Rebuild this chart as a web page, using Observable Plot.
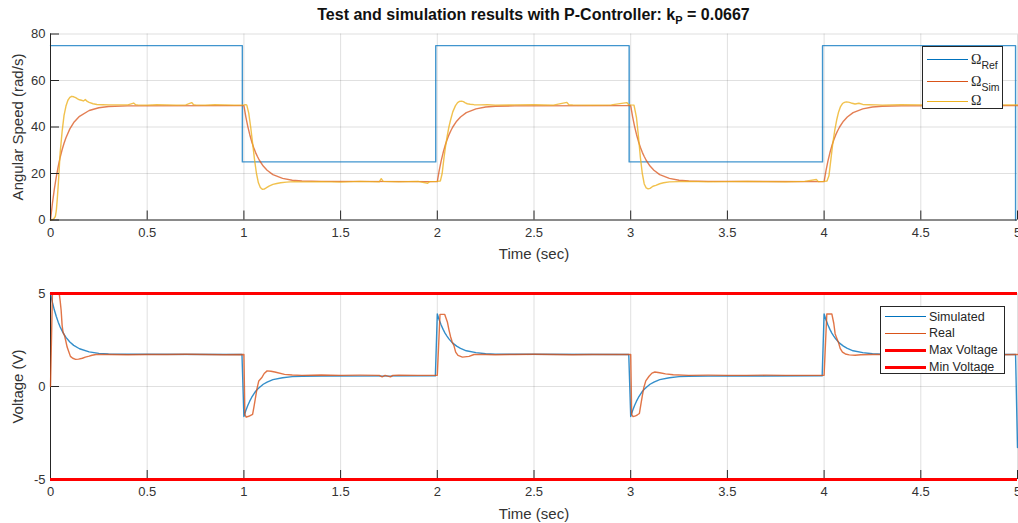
<!DOCTYPE html>
<html>
<head>
<meta charset="utf-8">
<script src="https://cdn.jsdelivr.net/npm/d3@7"></script>
<script src="https://cdn.jsdelivr.net/npm/@observablehq/plot@0.6"></script>
<style>
  body { margin: 0; background: #fff; font-family: "Liberation Sans", Arial, sans-serif; }
  #fig { position: relative; width: 1018px; height: 523px; overflow: hidden; background: #fff; }
  #title { box-sizing: border-box; height: 26px; padding: 5px 1px 0 50px; line-height: 20px;
           text-align: center; font-weight: bold; font-size: 16px; color: #111; white-space: nowrap; }
  #title sub { font-size: 11px; vertical-align: -4px; line-height: 0; }
  #top svg, #bottom svg { display: block; }
  .legend { position: absolute; box-sizing: border-box; background: #fff; border: 1px solid #262626; color: #262626; }
  .legend .sw { position: absolute; left: 4px; width: 41px; height: 0; }
  .legend .lb { position: absolute; left: 48px; height: 18px; line-height: 18px; white-space: nowrap; font-size: 12.5px; }
  .legend .om { font-family: "Liberation Serif", "DejaVu Serif", serif; font-size: 14px; }
  .legend .om sub { font-family: "Liberation Sans", Arial, sans-serif; font-size: 10.5px; vertical-align: -5px; line-height: 0; }
</style>
</head>
<body>
<div id="fig">
  <div id="title">Test and simulation results with P-Controller: k<sub>P</sub> = 0.0667</div>
  <div id="top"></div>
  <div id="bottom"></div>
  <div class="legend" id="legTop" style="left:922px; top:46px; width:81px; height:63px;"></div>
  <div class="legend" id="legBottom" style="left:880px; top:306px; width:125px; height:68px;"></div>
</div>
<script>
// ---- axes ----
const timeDomain = [0, 5];
const timeTicks = [0, 0.5, 1, 1.5, 2, 2.5, 3, 3.5, 4, 4.5, 5];
const omegaDomain = [0, 80];
const omegaTicks = [0, 20, 40, 60, 80];
const voltDomain = [-5, 5];
const voltTicks = [-5, 0, 5];
const voltLimits = [5, -5];   // max / min supply voltage

// ---- reference speed (rad/s) ----
const refT = [0, 0.992, 0.992, 1.992, 1.992, 2.992, 2.992, 3.992, 3.992, 4.99, 4.99];
const refOmega = [75, 75, 25, 25, 75, 75, 25, 25, 75, 75, 0];

// ---- simulated response (shared time base) ----
const simT = [
  0, 0.01, 0.02, 0.03, 0.04, 0.05, 0.06, 0.07, 0.08, 0.10, 0.12, 0.15, 0.20, 0.25, 0.30, 0.40, 0.99,
  1.00, 1.01, 1.02, 1.03, 1.04, 1.05, 1.06, 1.07, 1.08, 1.10, 1.12, 1.15, 1.20, 1.25, 1.30, 1.40, 1.99,
  2.00, 2.01, 2.02, 2.03, 2.04, 2.05, 2.06, 2.07, 2.08, 2.10, 2.12, 2.15, 2.20, 2.25, 2.30, 2.40, 2.99,
  3.00, 3.01, 3.02, 3.03, 3.04, 3.05, 3.06, 3.07, 3.08, 3.10, 3.12, 3.15, 3.20, 3.25, 3.30, 3.40, 3.99,
  4.00, 4.01, 4.02, 4.03, 4.04, 4.05, 4.06, 4.07, 4.08, 4.10, 4.12, 4.15, 4.20, 4.25, 4.30, 4.40, 4.99, 5.00
];
const simOmega = [
  0, 7.2, 13.4, 18.6, 23.1, 27.0, 30.2, 33.0, 35.4, 39.2, 41.9, 44.6, 47.1, 48.3, 48.8, 49.1, 49.2,
  49.2, 44.4, 40.3, 36.8, 33.8, 31.3, 29.1, 27.3, 25.7, 23.2, 21.4, 19.5, 17.9, 17.1, 16.8, 16.6, 16.5,
  16.5, 21.3, 25.4, 28.9, 31.9, 34.4, 36.6, 38.4, 40.0, 42.5, 44.3, 46.2, 47.8, 48.6, 48.9, 49.1, 49.2,
  49.2, 44.4, 40.3, 36.8, 33.8, 31.3, 29.1, 27.3, 25.7, 23.2, 21.4, 19.5, 17.9, 17.1, 16.8, 16.6, 16.5,
  16.5, 21.3, 25.4, 28.9, 31.9, 34.4, 36.6, 38.4, 40.0, 42.5, 44.3, 46.2, 47.8, 48.6, 48.9, 49.1, 49.2, 49.2
];
const simVolt = [
  5.00, 4.52, 4.11, 3.76, 3.46, 3.20, 2.99, 2.80, 2.64, 2.39, 2.21, 2.03, 1.86, 1.78, 1.75, 1.73, 1.72,
  -1.61, -1.29, -1.02, -0.79, -0.59, -0.42, -0.27, -0.15, -0.05, 0.12, 0.24, 0.37, 0.47, 0.53, 0.55, 0.56, 0.57,
  3.90, 3.58, 3.31, 3.07, 2.87, 2.71, 2.56, 2.44, 2.33, 2.17, 2.05, 1.92, 1.82, 1.76, 1.74, 1.73, 1.72,
  -1.61, -1.29, -1.02, -0.79, -0.59, -0.42, -0.27, -0.15, -0.05, 0.12, 0.24, 0.37, 0.47, 0.53, 0.55, 0.56, 0.57,
  3.90, 3.58, 3.31, 3.07, 2.87, 2.71, 2.56, 2.44, 2.33, 2.17, 2.05, 1.92, 1.82, 1.76, 1.74, 1.73, 1.72, -3.28
];

// ---- measured speed [t, rad/s] ----
const measOmega = [
  [0, 0], [0.015, 0.3], [0.025, 1.5], [0.03, 4], [0.035, 9], [0.04, 15], [0.045, 22], [0.05, 29],
  [0.06, 38], [0.07, 45], [0.08, 49], [0.09, 51.5], [0.10, 52.7], [0.11, 53.2], [0.12, 53], [0.13, 52.6],
  [0.14, 52.1], [0.15, 51.7], [0.16, 51.5], [0.17, 51.2], [0.18, 51.8], [0.19, 51], [0.20, 50.6], [0.22, 50],
  [0.24, 49.7], [0.27, 49.6], [0.30, 49.5], [0.35, 49.5], [0.40, 49.5], [0.43, 50.3], [0.44, 49.6], [0.45, 49.5],
  [0.50, 49.4], [0.55, 49.6], [0.60, 49.5], [0.65, 49.4], [0.70, 49.5], [0.73, 50.5], [0.74, 49.6], [0.75, 49.5],
  [0.80, 49.4], [0.85, 49.6], [0.90, 49.5], [0.95, 49.4], [1.00, 49.5], [1.01, 49.6],
  [1.015, 49.4], [1.025, 46], [1.035, 40], [1.045, 33], [1.055, 26], [1.065, 20], [1.075, 16], [1.085, 14],
  [1.095, 13.2], [1.105, 13.3], [1.115, 13.8], [1.13, 14.6], [1.15, 15.3], [1.17, 15.7], [1.19, 16], [1.22, 16.3],
  [1.26, 16.5], [1.3, 16.4], [1.4, 16.5], [1.5, 16.3], [1.6, 16.6], [1.7, 16.4], [1.71, 17.8], [1.72, 16.6],
  [1.8, 16.4], [1.9, 16.6], [1.95, 15.8], [1.96, 16.5], [2.0, 16.6], [2.016, 16.8],
  [2.025, 20], [2.035, 27], [2.042, 31.3], [2.05, 35.5], [2.06, 40], [2.068, 42.8], [2.08, 46.5], [2.094, 49.2],
  [2.105, 50.5], [2.115, 51], [2.125, 51.1], [2.135, 50.9], [2.145, 50.4], [2.155, 50], [2.17, 49.8], [2.19, 49.6],
  [2.22, 49.5], [2.26, 49.6], [2.3, 49.4], [2.4, 49.5], [2.5, 49.6], [2.6, 49.4], [2.67, 50.6], [2.68, 49.6],
  [2.7, 49.5], [2.8, 49.4], [2.9, 49.5], [2.98, 50.5], [2.99, 49.6], [3.0, 49.5], [3.017, 49.4],
  [3.03, 44], [3.04, 36], [3.05, 27], [3.06, 20], [3.07, 15.5], [3.08, 13.8], [3.09, 13.4], [3.1, 13.6],
  [3.115, 14.5], [3.13, 14.9], [3.15, 15.6], [3.17, 16], [3.2, 16.4], [3.25, 16.5], [3.3, 16.6], [3.4, 16.4],
  [3.5, 16.5], [3.6, 16.6], [3.7, 16.5], [3.8, 16.4], [3.9, 16.6], [3.96, 17.4], [3.97, 16.5], [4.0, 16.6], [4.015, 16.8],
  [4.025, 19], [4.035, 26], [4.045, 33], [4.055, 38.5], [4.065, 43], [4.075, 46.5], [4.085, 48.8], [4.095, 50.1],
  [4.105, 50.6], [4.115, 50.8], [4.125, 50.7], [4.135, 50.5], [4.145, 50.2], [4.16, 49.9], [4.18, 50.2], [4.2, 49.7],
  [4.23, 49.6], [4.27, 49.5], [4.3, 49.4], [4.4, 49.6], [4.5, 49.5], [4.6, 49.4], [4.7, 49.5], [4.8, 49.6],
  [4.9, 49.5], [5.0, 49.5]
];

// ---- measured voltage [t, V] ----
const measVolt = [
  [0, 0], [0.01, 5], [0.045, 5], [0.05, 4.6], [0.055, 4.1], [0.06, 3.3], [0.065, 2.9], [0.072, 2.75],
  [0.078, 2.5], [0.086, 2.12], [0.095, 1.85], [0.103, 1.62], [0.115, 1.52], [0.13, 1.46], [0.145, 1.47], [0.165, 1.52],
  [0.18, 1.58], [0.2, 1.63], [0.215, 1.68], [0.235, 1.72], [0.3, 1.72], [0.4, 1.71], [0.5, 1.72], [0.6, 1.72],
  [0.7, 1.73], [0.8, 1.72], [0.9, 1.71], [1.0, 1.72],
  [1.005, -1.5], [1.012, -1.65], [1.025, -1.6], [1.035, -1.55], [1.045, -1.5], [1.052, -1.1], [1.06, -0.6], [1.068, -0.1],
  [1.077, 0.3], [1.094, 0.5], [1.105, 0.7], [1.12, 0.84], [1.14, 0.82], [1.16, 0.78], [1.21, 0.65], [1.25, 0.62],
  [1.3, 0.6], [1.4, 0.62], [1.5, 0.6], [1.6, 0.61], [1.7, 0.6], [1.715, 0.52], [1.73, 0.6], [1.758, 0.52],
  [1.77, 0.6], [1.8, 0.61], [1.9, 0.6], [2.0, 0.6],
  [2.014, 3.88], [2.038, 3.88], [2.052, 3.47], [2.06, 3.06], [2.069, 2.66], [2.077, 2.39], [2.086, 2.2], [2.095, 1.85],
  [2.107, 1.67], [2.13, 1.58], [2.164, 1.62], [2.19, 1.72], [2.25, 1.72], [2.3, 1.71], [2.4, 1.72], [2.5, 1.73],
  [2.6, 1.72], [2.7, 1.71], [2.8, 1.72], [2.9, 1.72], [3.0, 1.72],
  [3.005, -1.5], [3.012, -1.62], [3.025, -1.58], [3.035, -1.52], [3.045, -1.45], [3.052, -1.0], [3.06, -0.5], [3.068, -0.05],
  [3.078, 0.3], [3.095, 0.55], [3.11, 0.72], [3.125, 0.78], [3.15, 0.74], [3.18, 0.68], [3.22, 0.63], [3.3, 0.6],
  [3.4, 0.61], [3.5, 0.6], [3.6, 0.6], [3.7, 0.61], [3.8, 0.6], [3.9, 0.6], [4.0, 0.6],
  [4.014, 3.9], [4.04, 3.9], [4.05, 3.4], [4.057, 2.84], [4.065, 2.6], [4.075, 2.35], [4.083, 2.05], [4.095, 1.85],
  [4.11, 1.75], [4.13, 1.7], [4.16, 1.68], [4.19, 1.71], [4.25, 1.72], [4.3, 1.72], [4.4, 1.71], [4.5, 1.72],
  [4.6, 1.72], [4.7, 1.73], [4.8, 1.72], [4.9, 1.71], [5.0, 1.72]
];

// ---- labels & colours ----
const speedNames = ["Ref", "Sim", ""];            // subscripts of Ω
const voltNames = ["Simulated", "Real", "Max Voltage", "Min Voltage"];
const blue = "#0072BD", orange = "#D95319", yellow = "#EDB120", red = "#FF0000";
const axisColor = "#262626";

const fmt = d => String(d);
const font = '"Liberation Sans", Arial, sans-serif';
const lineW = 1.4;

function gridMarks(yTicks) {
  return [
    Plot.gridX(timeTicks, {stroke: axisColor, strokeOpacity: 0.14}),
    Plot.gridY(yTicks, {stroke: axisColor, strokeOpacity: 0.14})
  ];
}
function axisMarks(yDomain, yTicks, yLabel, xLabelDy) {
  return [
    Plot.ruleY([yDomain[0]], {stroke: axisColor, strokeWidth: 1}),
    Plot.ruleX([timeDomain[0]], {stroke: axisColor, strokeWidth: 1}),
    Plot.axisX({ticks: timeTicks, tickSize: -9, tickPadding: 16.5, tickFormat: fmt, label: null,
                stroke: axisColor, fill: "#333", fontSize: 13}),
    Plot.axisY({ticks: yTicks, tickSize: -9, tickPadding: 14, tickFormat: fmt, label: null,
                stroke: axisColor, fill: "#333", fontSize: 13}),
    Plot.text(["Time (sec)"], {text: d => d, frameAnchor: "bottom", dy: xLabelDy,
                textAnchor: "middle", lineAnchor: "middle", fontSize: 15, fill: "#333"}),
    Plot.text([yLabel], {text: d => d, frameAnchor: "left", dx: -32, rotate: -90,
                textAnchor: "middle", lineAnchor: "middle", fontSize: 15, fill: "#333"})
  ];
}

// ---- upper panel: angular speed ----
const refRows = refT.map((t, i) => ({t, v: refOmega[i]}));
const simOmegaRows = simT.map((t, i) => ({t, v: simOmega[i]}));
const measOmegaRows = measOmega.map(([t, v]) => ({t, v}));

const speedPlot = Plot.plot({
  width: 1018, height: 236,
  marginTop: 7.5, marginBottom: 42.5, marginLeft: 50, marginRight: 1,
  x: {domain: timeDomain},
  y: {domain: omegaDomain},
  style: {fontFamily: font, fontSize: "13px", color: "#333", background: "white", overflow: "visible"},
  marks: [
    ...gridMarks(omegaTicks),
    Plot.line(refRows, {x: "t", y: "v", stroke: blue, strokeWidth: lineW, strokeOpacity: 0.75}),
    Plot.line(simOmegaRows, {x: "t", y: "v", stroke: orange, strokeWidth: lineW, strokeOpacity: 0.75}),
    Plot.line(measOmegaRows, {x: "t", y: "v", stroke: yellow, strokeWidth: lineW, strokeOpacity: 0.8}),
    ...axisMarks(omegaDomain, omegaTicks, "Angular Speed (rad/s)", 34.5)
  ]
});
document.getElementById("top").append(speedPlot);

// ---- lower panel: voltage ----
const simVoltRows = simT.map((t, i) => ({t, v: simVolt[i]}));
const measVoltRows = measVolt.map(([t, v]) => ({t, v}));

const voltPlot = Plot.plot({
  width: 1018, height: 261,
  marginTop: 31, marginBottom: 44, marginLeft: 50, marginRight: 1,
  x: {domain: timeDomain},
  y: {domain: voltDomain},
  style: {fontFamily: font, fontSize: "13px", color: "#333", background: "white", overflow: "visible"},
  marks: [
    ...gridMarks(voltTicks),
    ...axisMarks(voltDomain, voltTicks, "Voltage (V)", 35),
    Plot.line(simVoltRows, {x: "t", y: "v", stroke: blue, strokeWidth: lineW, strokeOpacity: 0.8}),
    Plot.line(measVoltRows, {x: "t", y: "v", stroke: orange, strokeWidth: lineW, strokeOpacity: 0.8}),
    Plot.ruleY(voltLimits, {stroke: red, strokeWidth: 3})
  ]
});
document.getElementById("bottom").append(voltPlot);

// ---- legends ----
function addRow(box, y, color, width, html, cls) {
  const sw = document.createElement("div");
  sw.className = "sw";
  sw.style.top = (y - width / 2) + "px";
  sw.style.borderTop = width + "px solid " + color;
  box.append(sw);
  const lb = document.createElement("div");
  lb.className = "lb" + (cls ? " " + cls : "");
  lb.style.top = (y - 9) + "px";
  lb.innerHTML = html;
  box.append(lb);
}
const legTop = document.getElementById("legTop");
const topColors = [blue, orange, yellow];
const topRowsY = [12.8, 34.5, 54.2];
speedNames.forEach((s, i) => addRow(legTop, topRowsY[i], topColors[i], 1.2,
  "Ω" + (s ? "<sub>" + s + "</sub>" : ""), "om"));

const legBottom = document.getElementById("legBottom");
const bottomColors = [blue, orange, red, red];
const bottomWidths = [1.2, 1.2, 3, 3];
const bottomRowsY = [9.7, 26.3, 43, 60];
voltNames.forEach((s, i) => addRow(legBottom, bottomRowsY[i], bottomColors[i], bottomWidths[i], s));
</script>
</body>
</html>
